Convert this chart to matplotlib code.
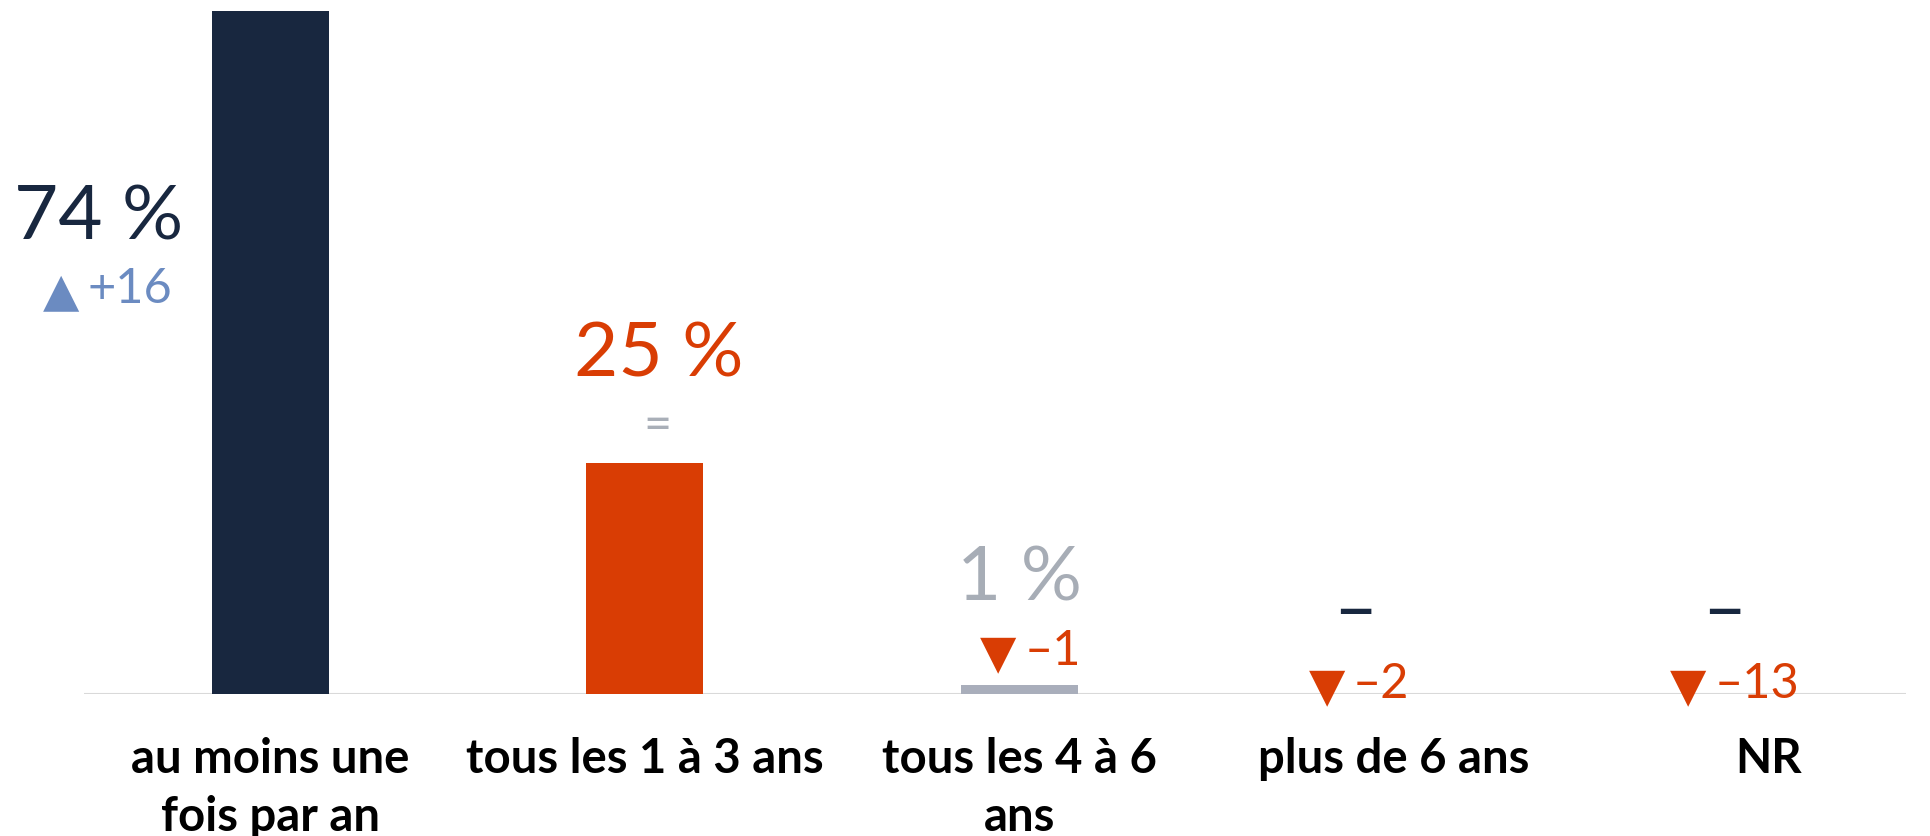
import matplotlib
matplotlib.use("Agg")
import matplotlib.pyplot as plt

# données
categories = ["au moins une\nfois par an", "tous les 1 à 3 ans", "tous les 4 à 6\nans", "plus de 6 ans", "NR"]
values = [74, 25, 1, 0, 0]
value_labels = ["74 %", "25 %", "1 %", "–", "–"]
delta_labels = ["▲ +16", "=", "▼ –1", "▼ –2", "▼ –13"]

navy = "#18273f"
orange = "#d93d04"
grey = "#a9aebb"
blue = "#6b8bc1"

bar_colors = [navy, orange, grey, navy, navy]
value_colors = [navy, orange, "#a7adb6", navy, navy]
delta_colors = [blue, "#a9afb8", orange, orange, orange]

# placement des étiquettes (pixels par rapport au haut de la barre)
label_dx = [-172, 14, 0, -39, -44]
label_dy = [-227, 88, 85, 61, 61]
delta_dx = [-187, 13, 1, -45, -58]

fig = plt.figure(figsize=(19.31, 8.37), dpi=100)
ax = fig.add_axes([84 / 1931, 142 / 837, 1822 / 1931, 683 / 837])

x = range(len(categories))
ax.bar(x, values, width=0.3125, color=bar_colors, zorder=2)
ax.axhline(0, color="#d9d9d9", lw=1.5, zorder=1)

fam = ["Lato", "DejaVu Sans"]
for i, v in enumerate(values):
    ax.annotate(value_labels[i], xy=(i, v), xytext=(label_dx[i], label_dy[i]),
                textcoords="offset pixels", ha="center", va="baseline",
                fontsize=55, color=value_colors[i], family=fam)
    parts = delta_labels[i].split(" ", 1)
    dy = label_dy[i] - 64
    if len(parts) == 2:
        # triangle à gauche, nombre à droite
        ax.annotate(parts[0], xy=(i, v), xytext=(delta_dx[i] - 4, dy - 2),
                    textcoords="offset pixels", ha="right", va="baseline",
                    fontsize=34, color=delta_colors[i], family="DejaVu Sans")
        ax.annotate(parts[1], xy=(i, v), xytext=(delta_dx[i] + 4, dy),
                    textcoords="offset pixels", ha="left", va="baseline",
                    fontsize=35, color=delta_colors[i], family=fam)
    else:
        ax.annotate(parts[0], xy=(i, v), xytext=(delta_dx[i], dy),
                    textcoords="offset pixels", ha="center", va="baseline",
                    fontsize=35, color=delta_colors[i], family=fam)

ax.set_xlim(-0.498, 4.368)
ax.set_ylim(0, 74)
ax.set_xticks(list(x))
ax.set_xticklabels(categories, fontsize=34, fontweight="bold", family=fam,
                   linespacing=1.4, color="black")
ax.tick_params(axis="x", length=0, pad=30)
ax.set_yticks([])
for s in ax.spines.values():
    s.set_visible(False)

fig.savefig("out.png", dpi=100)
